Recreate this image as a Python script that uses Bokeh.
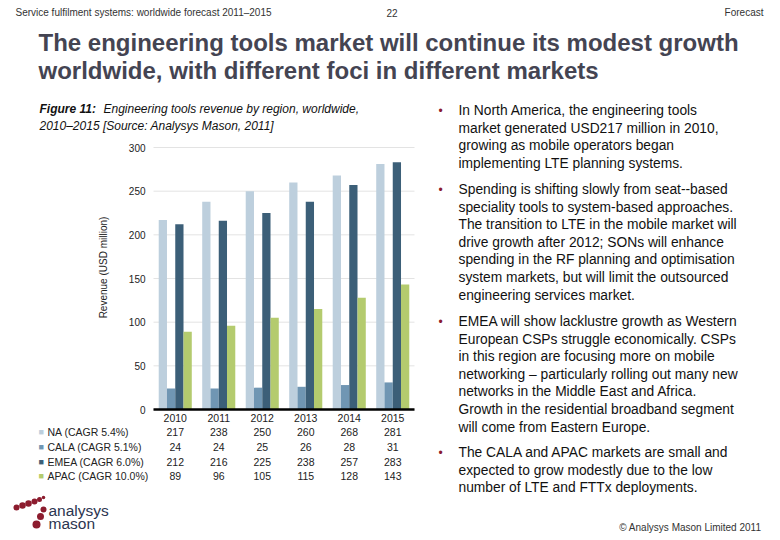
import math
from bokeh.plotting import figure
from bokeh.models import Range1d, Label, ColumnDataSource
from bokeh.transform import dodge
from bokeh.core.properties import value
from bokeh.embed import file_html
from bokeh.resources import INLINE

# ---------------- data ----------------
years = ["2010", "2011", "2012", "2013", "2014", "2015"]
series_names = ["NA (CAGR 5.4%)", "CALA (CAGR 5.1%)", "EMEA (CAGR 6.0%)", "APAC (CAGR 10.0%)"]
na = [217, 238, 250, 260, 268, 281]
cala = [24, 24, 25, 26, 28, 31]
emea = [212, 216, 225, 238, 257, 283]
apac = [89, 96, 105, 115, 128, 143]
y_ticks = [0, 50, 100, 150, 200, 250, 300]
y_tick_labels = ["0", "50", "100", "150", "200", "250", "300"]

colors = ["#BDCFDD", "#7096B3", "#3C5F78", "#B4CB6E"]
series_values = [na, cala, emea, apac]

bullets = [
    ["In North America, the engineering tools",
     "market generated USD217 million in 2010,",
     "growing as mobile operators began",
     "implementing LTE planning systems."],
    ["Spending is shifting slowly from seat--based",
     "speciality tools to system-based approaches.",
     "The transition to LTE in the mobile market will",
     "drive growth after 2012; SONs will enhance",
     "spending in the RF planning and optimisation",
     "system markets, but will limit the outsourced",
     "engineering services market."],
    ["EMEA will show lacklustre growth as Western",
     "European CSPs struggle economically. CSPs",
     "in this region are focusing more on mobile",
     "networking \u2013 particularly rolling out many new",
     "networks in the Middle East and Africa.",
     "Growth in the residential broadband segment",
     "will come from Eastern Europe."],
    ["The CALA and APAC markets are small and",
     "expected to grow modestly due to the low",
     "number of LTE and FTTx deployments."],
]

FONT = "Liberation Sans"
W, H = 780, 540
# chart area placement on the page (page px)
FL, FR, FT, FB = 153, 414, 147, 409
XMIN, XMAX, YMIN, YMAX = -0.5, 5.5, 0, 300


def X(px):
    return XMIN + (px - FL) * (XMAX - XMIN) / (FR - FL)


def Y(py):
    return YMIN + (FB - py) * (YMAX - YMIN) / (FB - FT)


p = figure(width=W, height=H, output_backend="svg", toolbar_location=None,
           x_range=Range1d(X(0), X(W)), y_range=Range1d(Y(H), Y(0)),
           x_axis_type=None, y_axis_type=None, min_border=0, tools="")
p.outline_line_color = None
p.background_fill_color = "white"
p.border_fill_color = "white"
p.xgrid.grid_line_color = None
p.ygrid.grid_line_color = None

xs = list(range(len(years)))

# grid lines (value scale)
p.segment(x0=[XMIN] * len(y_ticks), x1=[XMAX] * len(y_ticks), y0=y_ticks,
          y1=y_ticks, line_color="#E3E3E3", line_width=1)

# bars
src = ColumnDataSource(dict(x=xs, na=na, cala=cala, emea=emea, apac=apac))
offsets = [-0.285, -0.095, 0.095, 0.285]
for key, off, col in zip(["na", "cala", "emea", "apac"], offsets, colors):
    p.vbar(x=dodge("x", off), top=key, width=0.19, source=src,
           fill_color=col, line_color=None)

# x axis line
p.segment(x0=[XMIN], x1=[XMAX], y0=[0], y1=[0], line_color="black", line_width=2.5)

TXT = "#222222"
# y tick labels
p.text(x=[X(145)] * len(y_ticks), y=y_ticks, text=y_tick_labels,
       text_font=value(FONT), text_font_size="10px", text_color=TXT,
       text_align="right", text_baseline="middle")
# x tick labels
p.text(x=xs, y=[Y(417)] * len(xs), text=years,
       text_font=value(FONT), text_font_size="10.5px", text_color=TXT,
       text_align="center", text_baseline="middle")
# y axis title
p.text(x=[X(103)], y=[Y(267)], text=["Revenue (USD million)"], angle=math.pi / 2,
       text_font=value(FONT), text_font_size="10px", text_color=TXT,
       text_align="center", text_baseline="middle")


def lab(px, py, text, size, color=TXT, style="normal", align="left",
        baseline="middle"):
    p.add_layout(Label(x=X(px), y=Y(py), text=text, text_font=FONT,
                       text_font_size=f"{size}px", text_color=color,
                       text_font_style=style, text_align=align,
                       text_baseline=baseline))


# header
lab(15, 12, "Service fulfilment systems: worldwide forecast 2011\u20132015", 10, "#333333")
lab(386, 12, "22", 10, "#333333")
lab(763, 12, "Forecast", 10, "#333333", align="right")

# title
TITLE_C = "#444452"
lab(38, 42, "The engineering tools market will continue its modest growth", 24, TITLE_C, "bold")
lab(38, 70, "worldwide, with different foci in different markets", 24, TITLE_C, "bold")

# caption
lab(39, 108, "Figure 11:", 12, "#111111", "bold italic")
lab(103, 108, "Engineering tools revenue by region, worldwide,", 12, "#111111", "italic")
lab(39, 125, "2010\u20132015 [Source: Analysys Mason, 2011]", 12, "#111111", "italic")

# data table below chart
row_y = [431, 446, 461, 475]
for name, vals, col, ry in zip(series_names, series_values, colors, row_y):
    lab(38, ry, "\u25A0", 9, col)
    lab(47, ry, name, 10.5, TXT)
    p.text(x=xs, y=[Y(ry)] * len(xs), text=[str(v) for v in vals],
           text_font=value(FONT), text_font_size="10.5px", text_color=TXT,
           text_align="center", text_baseline="middle")

# bullets
BUL_C = "#8B1A2E"
line_h = 17.6
start_y = [110, 189, 321, 452]
for lines, sy in zip(bullets, start_y):
    lab(440, sy, "\u2022", 12, BUL_C, align="center")
    for k, t in enumerate(lines):
        lab(458, sy + k * line_h, t, 13.8, "#111111")

# logo
LOGO_R = "#8C1C2E"
dot_x = [16, 22, 28, 34, 39, 43, 43, 40, 36]
dot_y = [507, 505, 503, 501, 499, 497, 509, 516, 524]
dot_s = [6, 6.5, 6.5, 6, 5, 3.5, 6, 7, 8]
p.scatter(x=[X(v) for v in dot_x], y=[Y(v) for v in dot_y], size=dot_s,
          marker="circle", fill_color=LOGO_R, line_color=None)
lab(48, 510, "analysys", 15.5, "#2B3550")
lab(48, 523, "mason", 15.5, "#2B3550")

# copyright
lab(761, 527, "\u00A9 Analysys Mason Limited 2011", 10, "#333333", align="right")

open("out.html", "w").write(file_html(p, INLINE))
